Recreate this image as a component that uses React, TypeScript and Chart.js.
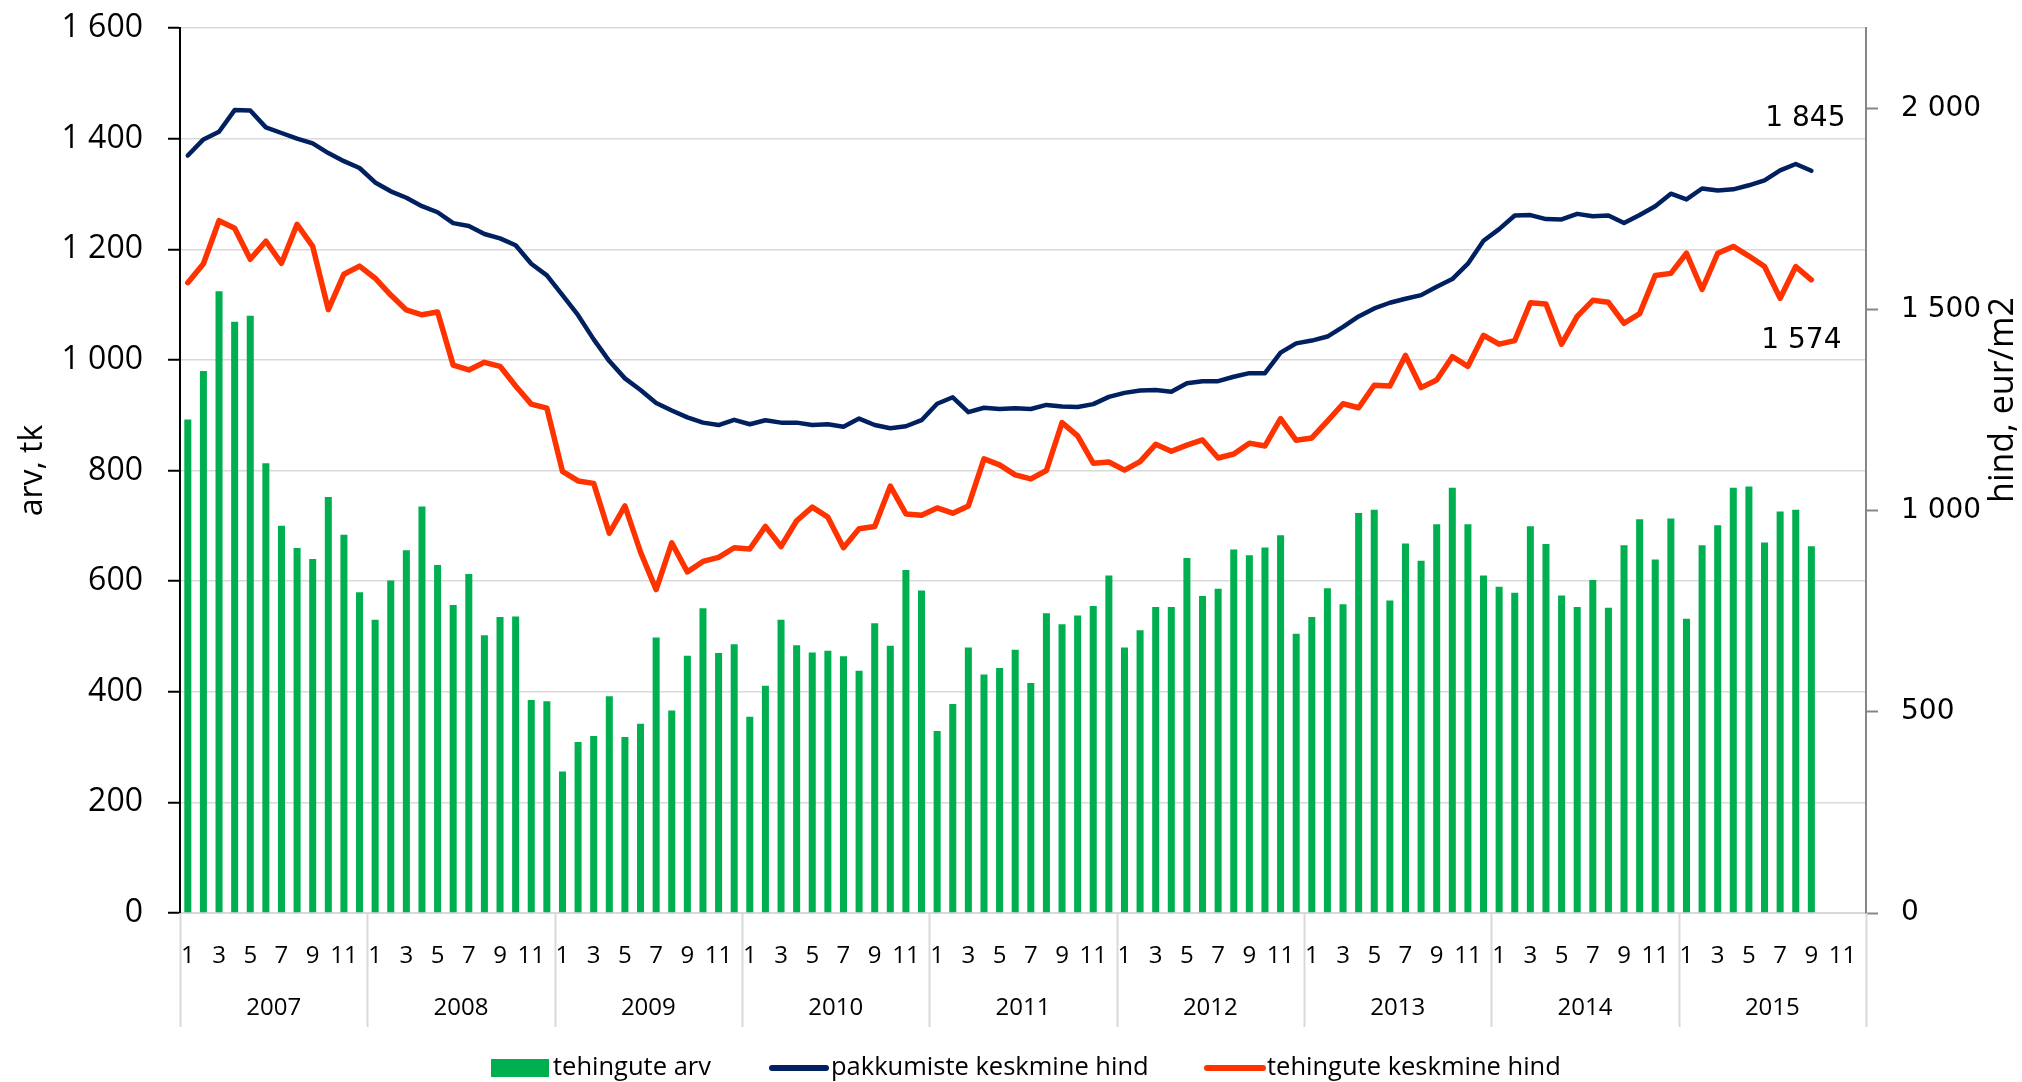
import React, { useEffect, useRef } from 'react';
import { Chart, registerables } from 'chart.js';

Chart.register(...registerables);

// ---- data ----
const years = ['2007', '2008', '2009', '2010', '2011', '2012', '2013', '2014', '2015'];
const months = ['1', '2', '3', '4', '5', '6', '7', '8', '9', '10', '11', '12'];

const seriesNames = ['tehingute arv', 'pakkumiste keskmine hind', 'tehingute keskmine hind'];

// tehingute arv (left axis), 2007-01 .. 2015-09
const transactionsCount = [
  892, 980, 1124, 1069, 1080, 813, 700, 660, 640, 752, 684, 580,
  530, 601, 656, 735, 629, 557, 613, 502, 535, 536, 385, 383,
  256, 309, 320, 392, 318, 342, 498, 366, 465, 551, 470, 486,
  355, 411, 530, 484, 471, 474, 464, 438, 524, 483, 620, 583,
  329, 378, 480, 431, 443, 476, 416, 542, 522, 538, 555, 610,
  480, 511, 553, 553, 642, 573, 586, 657, 647, 661, 683, 505,
  535, 587, 558, 723, 729, 565, 668, 637, 703, 769, 703, 610,
  590, 579, 699, 667, 574, 553, 602, 552, 665, 712, 639, 713,
  532, 665, 701, 769, 771, 670, 726, 729, 663,
];

// pakkumiste keskmine hind (right axis)
const offerPrice = [
  1883, 1923, 1942, 1996, 1995, 1953, 1939, 1925, 1913, 1889, 1869, 1852,
  1816, 1794, 1778, 1757, 1742, 1715, 1708, 1688, 1677, 1660, 1614, 1585,
  1536, 1486, 1426, 1372, 1329, 1300, 1268, 1249, 1232, 1219, 1213, 1226,
  1215, 1225, 1219, 1219, 1213, 1215, 1209, 1229, 1213, 1205, 1210, 1225,
  1266, 1282, 1245, 1256, 1253, 1255, 1253, 1263, 1259, 1258, 1265, 1283,
  1293, 1299, 1300, 1296, 1317, 1322, 1322, 1333, 1342, 1342, 1393, 1416,
  1423, 1433, 1457, 1483, 1503, 1517, 1527, 1536, 1557, 1576, 1614, 1671,
  1700, 1734, 1735, 1725, 1724, 1738, 1732, 1734, 1715, 1735, 1757, 1788,
  1774, 1801, 1796, 1799, 1809, 1821, 1846, 1862, 1845,
];

// tehingute keskmine hind (right axis)
const dealPrice = [
  1567, 1614, 1721, 1702, 1625, 1670, 1615, 1712, 1657, 1500, 1588, 1608,
  1578, 1536, 1499, 1487, 1494, 1362, 1350, 1369, 1359, 1310, 1265, 1255,
  1098, 1074, 1068, 944, 1012, 897, 804, 920, 848, 874, 884, 908,
  905, 961, 911, 975, 1009, 984, 908, 955, 961, 1061, 992, 989,
  1007, 994, 1012, 1129, 1114, 1089, 1079, 1100, 1219, 1186, 1118, 1121,
  1101, 1122, 1165, 1148, 1163, 1176, 1131, 1141, 1168, 1161, 1229, 1175,
  1181, 1223, 1266, 1256, 1312, 1310, 1386, 1306, 1325, 1383, 1359, 1436,
  1414, 1423, 1517, 1514, 1414, 1483, 1523, 1518, 1466, 1490, 1585, 1590,
  1640, 1550, 1640, 1657, 1633, 1607, 1528, 1607, 1574,
];

const leftTicks = [0, 200, 400, 600, 800, 1000, 1200, 1400, 1600];
const rightTicks = [0, 500, 1000, 1500, 2000];

const leftAxisTitle = 'arv, tk';
const rightAxisTitle = 'hind, eur/m2';

const categoryLabels: string[] = [];
years.forEach(() => months.forEach((m) => categoryLabels.push(m)));

const W = 2022;
const H = 1082;
const GREEN = '#00b050';
const NAVY = '#002060';
const RED = '#ff3300';
const GRID = '#d9d9d9';

const fmt = (n: number) => String(Math.round(n)).replace(/\B(?=(\d{3})+(?!\d))/g, ' ');

const extrasPlugin = {
  id: 'extras',
  afterDraw(chart: any) {
    const { ctx, chartArea, scales } = chart;
    const x = scales.x;
    const y1 = scales.y1;
    const n = categoryLabels.length;
    const cw = (x.right - x.left) / n;
    ctx.save();

    // year separators
    ctx.strokeStyle = GRID;
    ctx.lineWidth = 2;
    for (let k = 0; k <= years.length; k++) {
      const px = Math.round(x.left + k * months.length * cw) + 0.5;
      ctx.beginPath();
      ctx.moveTo(px, chartArea.bottom);
      ctx.lineTo(px, 1027);
      ctx.stroke();
    }

    // year labels
    ctx.fillStyle = '#000';
    ctx.font = '24px "Open Sans"';
    ctx.textAlign = 'center';
    ctx.textBaseline = 'middle';
    years.forEach((yr, k) => {
      ctx.fillText(yr, x.left + (k * months.length + months.length / 2) * cw, 1008);
    });

    // axis titles
    ctx.save();
    ctx.translate(42, (chartArea.top + chartArea.bottom) / 2);
    ctx.rotate(-Math.PI / 2);
    ctx.font = '32px "Open Sans"';
    ctx.textAlign = 'center';
    ctx.textBaseline = 'alphabetic';
    ctx.fillText(leftAxisTitle, 0, 0);
    ctx.restore();

    ctx.save();
    ctx.translate(2013, 400);
    ctx.rotate(-Math.PI / 2);
    ctx.font = '34px "Open Sans"';
    ctx.textAlign = 'center';
    ctx.textBaseline = 'alphabetic';
    ctx.fillText(rightAxisTitle, 0, 0);
    ctx.restore();

    // last value labels
    const li = offerPrice.length - 1;
    const lx = x.getPixelForValue(li);
    ctx.font = '28px "DejaVu Sans"';
    ctx.textAlign = 'center';
    ctx.textBaseline = 'middle';
    ctx.fillText(fmt(offerPrice[li]), lx - 6, y1.getPixelForValue(offerPrice[li]) - 52);
    const ri = dealPrice.length - 1;
    ctx.fillText(fmt(dealPrice[ri]), x.getPixelForValue(ri) - 10, y1.getPixelForValue(dealPrice[ri]) + 61);

    // legend
    const ly = 1068;
    ctx.font = '25.5px "Open Sans"';
    ctx.textAlign = 'left';
    ctx.textBaseline = 'middle';
    ctx.fillStyle = GREEN;
    ctx.fillRect(491, ly - 9, 58, 18);
    ctx.fillStyle = '#000';
    ctx.fillText(seriesNames[0], 553, ly);

    ctx.lineCap = 'round';
    ctx.lineWidth = 6;
    ctx.strokeStyle = NAVY;
    ctx.beginPath();
    ctx.moveTo(772, ly);
    ctx.lineTo(826, ly);
    ctx.stroke();
    ctx.fillText(seriesNames[1], 831, ly);

    ctx.strokeStyle = RED;
    ctx.beginPath();
    ctx.moveTo(1207, ly);
    ctx.lineTo(1263, ly);
    ctx.stroke();
    ctx.fillText(seriesNames[2], 1267, ly);

    ctx.restore();
  },
};

export default function App() {
  const ref = useRef<HTMLCanvasElement | null>(null);

  useEffect(() => {
    if (!ref.current) return;
    const chart = new Chart(ref.current, {
      type: 'bar',
      data: {
        labels: categoryLabels,
        datasets: [
          {
            type: 'bar',
            label: seriesNames[0],
            data: transactionsCount,
            backgroundColor: GREEN,
            yAxisID: 'y',
            order: 2,
            barPercentage: 0.45,
            categoryPercentage: 1,
          },
          {
            type: 'line',
            label: seriesNames[1],
            data: offerPrice,
            borderColor: NAVY,
            backgroundColor: NAVY,
            borderWidth: 4.5,
            pointRadius: 0,
            tension: 0,
            yAxisID: 'y1',
            order: 1,
            borderJoinStyle: 'round',
            borderCapStyle: 'round',
          },
          {
            type: 'line',
            label: seriesNames[2],
            data: dealPrice,
            borderColor: RED,
            backgroundColor: RED,
            borderWidth: 5.5,
            pointRadius: 0,
            tension: 0,
            yAxisID: 'y1',
            order: 0,
            borderJoinStyle: 'round',
            borderCapStyle: 'round',
          },
        ] as any,
      },
      options: {
        responsive: false,
        animation: false,
        layout: { padding: { top: 28, left: 0, right: 0, bottom: 0 } },
        plugins: {
          legend: { display: false },
          tooltip: { enabled: false },
        },
        scales: {
          x: {
            type: 'category',
            offset: true,
            grid: { display: false, drawTicks: false, tickLength: 0 },
            border: { display: true, color: GRID, width: 2 },
            ticks: {
              autoSkip: false,
              maxRotation: 0,
              minRotation: 0,
              padding: 29,
              color: '#000',
              font: { family: 'Open Sans', size: 24 },
              callback: (_v: any, i: number) => (i % 2 === 0 ? categoryLabels[i] : ''),
            },
            afterFit: (s: any) => {
              s.height = 169;
            },
          },
          y: {
            position: 'left',
            min: 0,
            max: 1600,
            afterBuildTicks: (s: any) => {
              s.ticks = leftTicks.map((v) => ({ value: v }));
            },
            ticks: {
              padding: 25,
              color: '#000',
              font: { family: 'Open Sans', size: 32 },
              callback: (v: any) => fmt(Number(v)),
            },
            grid: { color: GRID, lineWidth: 1.5, tickColor: '#000', tickLength: 12, tickWidth: 2 },
            border: { color: '#000', width: 2 },
            afterFit: (s: any) => {
              s.width = 180;
              s.paddingTop = 0;
              s.paddingBottom = 0;
            },
          },
          y1: {
            position: 'right',
            min: 0,
            max: 2200,
            afterBuildTicks: (s: any) => {
              s.ticks = rightTicks.map((v) => ({ value: v }));
            },
            ticks: {
              padding: 23,
              color: '#000',
              font: { family: 'DejaVu Sans', size: 28 },
              callback: (v: any) => fmt(Number(v)),
            },
            grid: { drawOnChartArea: false, tickColor: '#868686', tickLength: 12, tickWidth: 2 },
            border: { color: '#868686', width: 2 },
            afterFit: (s: any) => {
              s.width = 156;
              s.paddingTop = 0;
              s.paddingBottom = 0;
            },
          },
        } as any,
      },
      plugins: [extrasPlugin],
    });
    return () => chart.destroy();
  }, []);

  return (
    <div style={{ position: 'absolute', left: 0, top: 0, width: W, height: H, background: '#fff' }}>
      <canvas ref={ref} width={W} height={H} style={{ display: 'block', width: W, height: H }} />
    </div>
  );
}
